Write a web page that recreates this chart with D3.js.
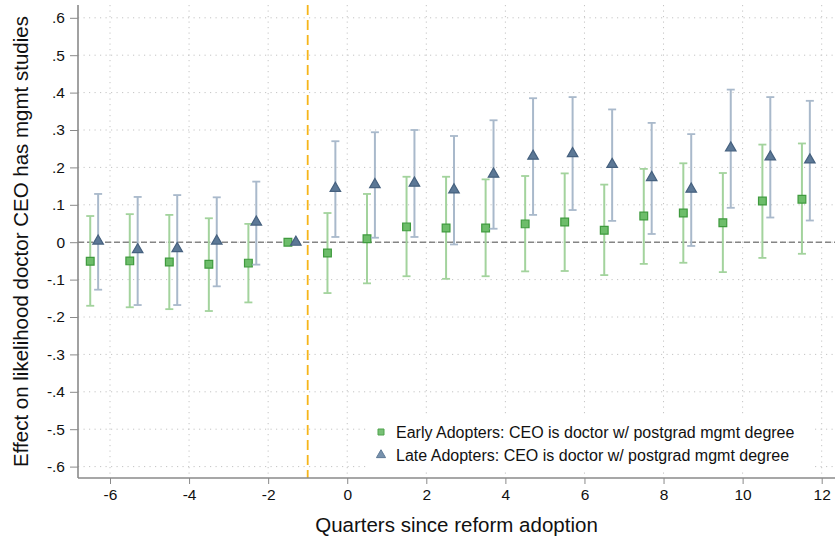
<!DOCTYPE html>
<html lang="en">
<head>
<meta charset="UTF-8">
<title>Event study: doctor CEO with mgmt studies</title>
<script src="https://d3js.org/d3.v7.min.js"></script>
<style>
  body { margin: 0; background: #fff; }
  svg { display: block; font-family: "Liberation Sans", Arial, sans-serif; }
</style>
</head>
<body>
<svg id="chart" width="835" height="538"></svg>
<script>
// quarters since adoption (index of each estimate pair)
const quarters = [-6, -5, -4, -3, -2, -1, 0, 1, 2, 3, 4, 5, 6, 7, 8, 9, 10, 11, 12];

// Early adopters: point estimate and 95% CI
const earlyEst = [-0.051, -0.050, -0.053, -0.059, -0.056, 0, -0.029, 0.009, 0.041, 0.038, 0.038, 0.049, 0.054, 0.032, 0.070, 0.078, 0.052, 0.110, 0.115];
const earlyLo  = [-0.170, -0.174, -0.179, -0.184, -0.161, null, -0.136, -0.110, -0.091, -0.098, -0.091, -0.078, -0.077, -0.088, -0.058, -0.055, -0.080, -0.042, -0.031];
const earlyHi  = [0.070, 0.075, 0.073, 0.064, 0.049, null, 0.078, 0.129, 0.175, 0.175, 0.168, 0.177, 0.184, 0.154, 0.196, 0.211, 0.185, 0.261, 0.264];

// Late adopters
const lateEst = [0.003, -0.020, -0.017, 0.003, 0.054, 0, 0.144, 0.154, 0.158, 0.140, 0.182, 0.230, 0.237, 0.208, 0.173, 0.142, 0.252, 0.228, 0.220];
const lateLo  = [-0.127, -0.168, -0.168, -0.118, -0.060, null, 0.014, 0.012, 0.014, -0.006, 0.036, 0.073, 0.086, 0.057, 0.022, -0.010, 0.092, 0.066, 0.058];
const lateHi  = [0.129, 0.121, 0.126, 0.120, 0.162, null, 0.270, 0.294, 0.300, 0.284, 0.326, 0.385, 0.388, 0.355, 0.319, 0.289, 0.408, 0.388, 0.378];

const xTicks = [-6, -4, -2, 0, 2, 4, 6, 8, 10, 12];
const yTicks = [-0.6, -0.5, -0.4, -0.3, -0.2, -0.1, 0, 0.1, 0.2, 0.3, 0.4, 0.5, 0.6];
const reformLine = -1;
const legendLabels = [
  "Early Adopters: CEO is doctor w/ postgrad mgmt degree",
  "Late Adopters: CEO is doctor w/ postgrad mgmt degree"
];

const svg = d3.select("#chart");
const plot = { left: 78, right: 835, top: 5, bottom: 478 };

const x = d3.scaleLinear().domain([-6, 12]).range([110, 821.7]);
const y = d3.scaleLinear().domain([-0.6, 0.6]).range([466.6, 17.8]);

// horizontal offsets of the two series
const earlyShift = -0.5, lateShift = -0.3;

// Stata style tick labels: .6, -.1, 0 (plain hyphen for minus)
const fmtY = v => {
  if (Math.abs(v) < 1e-9) return "0";
  return (v < 0 ? "-" : "") + Math.abs(v).toFixed(1).replace("0.", ".");
};
const fmtX = v => (v < 0 ? "-" : "") + Math.abs(v);

// grid
const grid = svg.append("g");
grid.selectAll(".gy").data(yTicks).enter().append("line")
  .attr("x1", plot.left).attr("x2", plot.right)
  .attr("y1", d => y(d)).attr("y2", d => y(d))
  .attr("stroke", "#c4c4c4").attr("stroke-width", 1)
  .attr("stroke-dasharray", "1.2,4.3");
grid.selectAll(".gx").data(xTicks).enter().append("line")
  .attr("x1", d => x(d)).attr("x2", d => x(d))
  .attr("y1", plot.top).attr("y2", plot.bottom)
  .attr("stroke", "#c4c4c4").attr("stroke-width", 1)
  .attr("stroke-dasharray", "1.2,4.3");

// zero line
svg.append("line")
  .attr("x1", plot.left).attr("x2", plot.right)
  .attr("y1", y(0)).attr("y2", y(0))
  .attr("stroke", "#858585").attr("stroke-width", 1.6)
  .attr("stroke-dasharray", "6,3");

// reform line
svg.append("line")
  .attr("x1", x(reformLine)).attr("x2", x(reformLine))
  .attr("y1", plot.top).attr("y2", plot.bottom)
  .attr("stroke", "#f6b51a").attr("stroke-width", 1.8)
  .attr("stroke-dasharray", "10,5");

function series(est, lo, hi, shift, barColor, fill, stroke, symbol, size) {
  const data = quarters.map((q, i) => ({ q: q + shift, est: est[i], lo: lo[i], hi: hi[i] }));
  const g = svg.append("g");
  const withCI = data.filter(d => d.lo !== null);
  g.selectAll(".bar").data(withCI).enter().append("line")
    .attr("x1", d => x(d.q)).attr("x2", d => x(d.q))
    .attr("y1", d => y(d.lo)).attr("y2", d => y(d.hi))
    .attr("stroke", barColor).attr("stroke-width", 2);
  ["lo", "hi"].forEach(k => {
    g.selectAll(".cap" + k).data(withCI).enter().append("line")
      .attr("x1", d => x(d.q) - 4).attr("x2", d => x(d.q) + 4)
      .attr("y1", d => y(d[k])).attr("y2", d => y(d[k]))
      .attr("stroke", barColor).attr("stroke-width", 1.8);
  });
  g.selectAll(".pt").data(data).enter().append("path")
    .attr("transform", d => `translate(${x(d.q)},${y(d.est)})`)
    .attr("d", d3.symbol().type(symbol).size(size))
    .attr("fill", fill).attr("stroke", stroke).attr("stroke-width", 1.2);
}

series(earlyEst, earlyLo, earlyHi, earlyShift, "#a3d39d", "#6dbd6a", "#3f9a3e", d3.symbolSquare, 60);
series(lateEst, lateLo, lateHi, lateShift, "#a9b9cb", "#5c7896", "#46617f", d3.symbolTriangle, 48);

// legend
const leg = svg.append("g");
leg.append("rect").attr("x", 368).attr("y", 416).attr("width", 446).attr("height", 56).attr("fill", "#fff");
leg.append("path").attr("transform", "translate(381,432)")
  .attr("d", d3.symbol().type(d3.symbolSquare).size(36))
  .attr("fill", "#78c076").attr("stroke", "#4ea34c").attr("stroke-width", 1);
leg.append("path").attr("transform", "translate(381,455)")
  .attr("d", d3.symbol().type(d3.symbolTriangle).size(36))
  .attr("fill", "#7892ad").attr("stroke", "#5f7a97").attr("stroke-width", 1);
leg.selectAll("text").data(legendLabels).enter().append("text")
  .attr("x", 396).attr("y", (d, i) => 437.5 + i * 23)
  .attr("font-size", 16).attr("fill", "#111").text(d => d);

// axes
const axisColor = "#8a8a8a";
svg.append("line").attr("x1", plot.left).attr("x2", plot.left)
  .attr("y1", plot.top).attr("y2", plot.bottom)
  .attr("stroke", axisColor).attr("stroke-width", 1.6);
svg.append("line").attr("x1", plot.left).attr("x2", plot.right)
  .attr("y1", plot.bottom).attr("y2", plot.bottom)
  .attr("stroke", axisColor).attr("stroke-width", 1.6);

const xAxis = svg.append("g").attr("transform", `translate(0,${plot.bottom})`)
  .call(d3.axisBottom(x).tickValues(xTicks).tickSize(6).tickPadding(5).tickFormat(fmtX));
xAxis.select(".domain").remove();
xAxis.selectAll("line").attr("stroke", axisColor);
xAxis.selectAll("text").attr("font-size", 15.5).attr("fill", "#111")
  .attr("font-family", "'Liberation Sans', Arial, sans-serif");

const yAxis = svg.append("g").attr("transform", `translate(${plot.left},0)`)
  .call(d3.axisLeft(y).tickValues(yTicks).tickSize(8).tickPadding(5).tickFormat(fmtY));
yAxis.select(".domain").remove();
yAxis.selectAll("line").attr("stroke", axisColor);
yAxis.selectAll("text").attr("font-size", 15.5).attr("fill", "#111")
  .attr("font-family", "'Liberation Sans', Arial, sans-serif");

// titles
svg.append("text")
  .attr("x", (plot.left + plot.right) / 2).attr("y", 532)
  .attr("text-anchor", "middle").attr("font-size", 20.5).attr("fill", "#111")
  .text("Quarters since reform adoption");
svg.append("text")
  .attr("transform", `translate(28,${(plot.top + plot.bottom) / 2}) rotate(-90)`)
  .attr("text-anchor", "middle").attr("font-size", 20.5).attr("fill", "#111")
  .text("Effect on likelihood doctor CEO has mgmt studies");
</script>
</body>
</html>
